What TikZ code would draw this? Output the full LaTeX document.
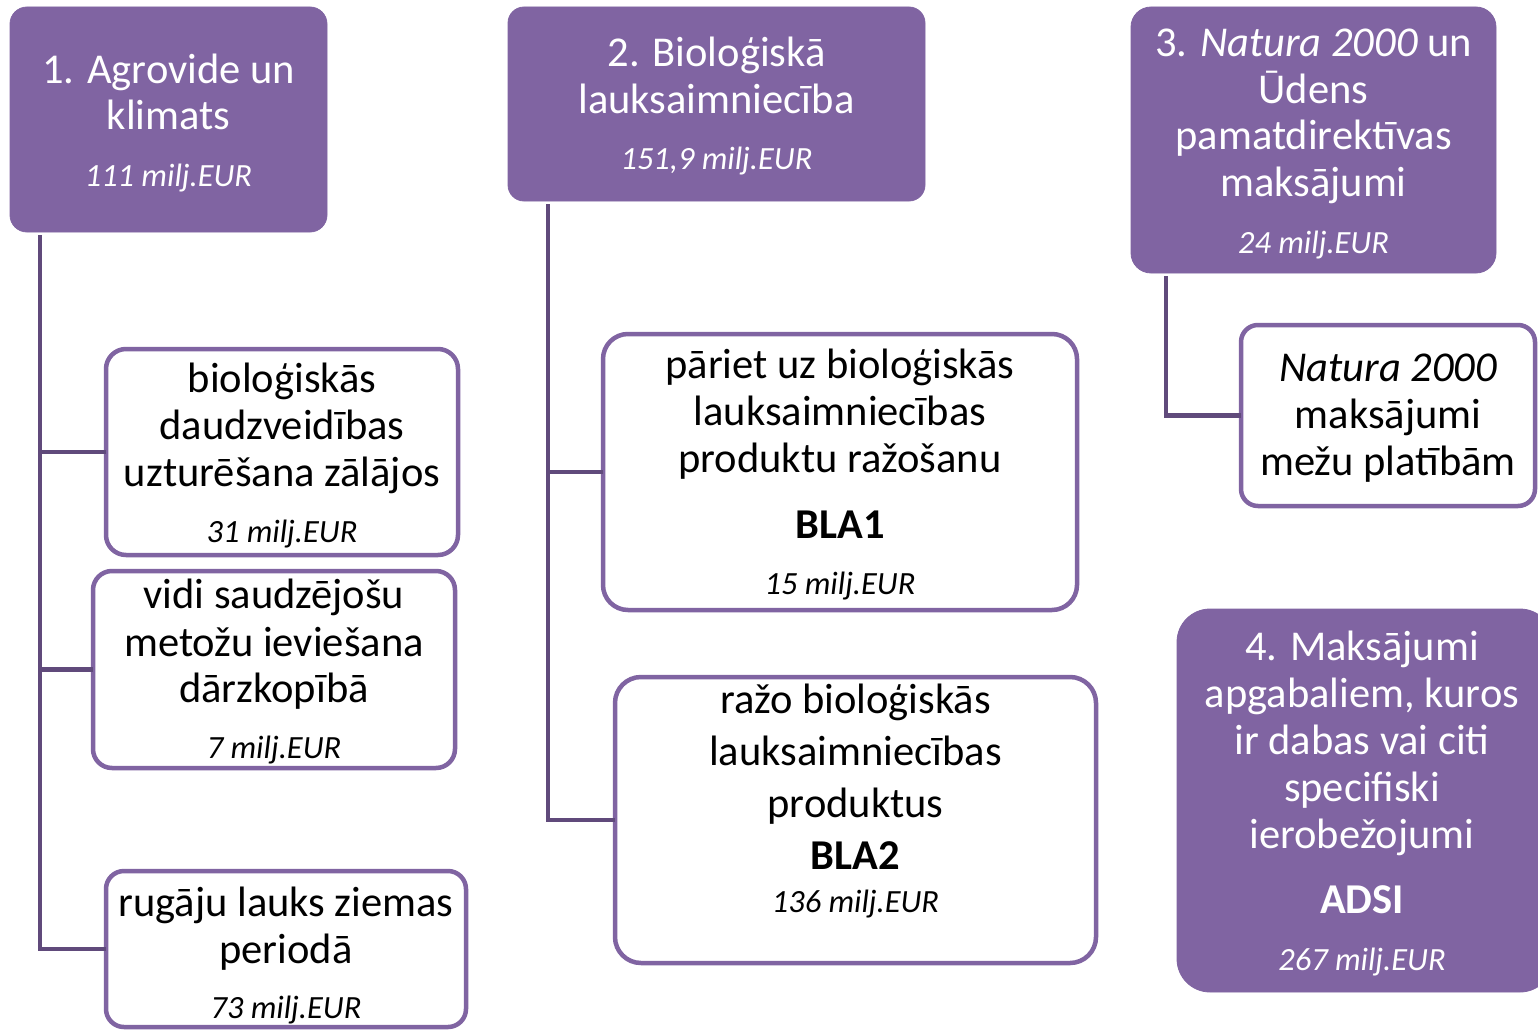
\documentclass[tikz,border=0pt]{standalone}
\usepackage{fontspec}
\setmainfont{Carlito}
\definecolor{pfill}{HTML}{8064A2}
\definecolor{pline}{HTML}{604A7B}
\newcommand\mytext[5][]{\node[tl,#1] (#2) at (#3,#4) {#5};}
\tikzset{
  topbox/.style={rectangle,fill=pfill,draw=pfill,line width=0.8pt,inner sep=0pt,outer sep=0pt},
  subbox/.style={rectangle,fill=white,draw=pfill,line width=4.5pt,inner sep=0pt,outer sep=0pt},
  conn/.style={draw=pline,line width=4.5pt},
  tl/.style={anchor=base,inner sep=0pt,yshift=-1.5pt,font=\fontsize{42.5}{47}\selectfont},
  wt/.style={text=white},
  amt/.style={font=\fontsize{32.4}{38}\selectfont\itshape},
  bld/.style={font=\fontsize{42.5}{47}\selectfont\bfseries}
}
\begin{document}
\begin{tikzpicture}[x=1pt,y=-1pt]
\useasboundingbox[fill=white] (0,0) rectangle (1538,1030);
% top boxes
\node[topbox,rounded corners=17pt,minimum width=317pt,minimum height=225pt] (b1) at (168.5,119.5) {};
\node[topbox,rounded corners=16pt,minimum width=417pt,minimum height=194pt] (b2) at (716.5,104) {};
\node[topbox,rounded corners=20pt,minimum width=365pt,minimum height=266pt] (b3) at (1313.5,140) {};
\node[topbox,rounded corners=33pt,minimum width=376pt,minimum height=383pt] (b4) at (1365,800.5) {};
% sub boxes
\node[subbox,rounded corners=20pt,minimum width=352pt,minimum height=206pt] (a1) at (282,452) {};
\node[subbox,rounded corners=19pt,minimum width=362pt,minimum height=197pt] (a2) at (274,669.5) {};
\node[subbox,rounded corners=18pt,minimum width=360pt,minimum height=156pt] (a3) at (286,949) {};
\node[subbox,rounded corners=25pt,minimum width=474pt,minimum height=276pt] (c1) at (840,472) {};
\node[subbox,rounded corners=26pt,minimum width=481pt,minimum height=286pt] (c2) at (855.5,820) {};
\node[subbox,rounded corners=17pt,minimum width=294pt,minimum height=181pt] (d1) at (1388,415.5) {};
% connectors
\coordinate (t1) at ([xshift=30pt,yshift=-3pt]b1.south west);
\coordinate (t2) at ([xshift=40pt,yshift=-3pt]b2.south west);
\coordinate (t3) at ([xshift=35pt,yshift=-3pt]b3.south west);
\draw[conn] (t1) |- (a3.west);
\draw[conn] (a1.west) -- (a1.west -| t1);
\draw[conn] (a2.west) -- (a2.west -| t1);
\draw[conn] (t2) |- (c2.west);
\draw[conn] (c1.west) -- (c1.west -| t2);
\draw[conn] (t3) |- (d1.west);
% texts box 1
\mytext[wt]{b1l1}{168.5}{82}{1. Agrovide un}
\mytext[wt]{b1l2}{168.5}{128}{klimats}
\mytext[wt,amt]{b1l3}{168.5}{185}{111 milj.EUR}
% box 2
\mytext[wt]{b2l1}{716.5}{65}{2. Bioloģiskā}
\mytext[wt]{b2l2}{716.5}{112}{lauksaimniecība}
\mytext[wt,amt]{b2l3}{716.5}{168}{151,9 milj.EUR}
% box 3
\mytext[wt]{b3l1}{1313.5}{55}{3. \textit{Natura 2000} un}
\mytext[wt]{b3l2}{1313.5}{102}{Ūdens}
\mytext[wt]{b3l3}{1313.5}{148}{pamatdirektīvas}
\mytext[wt]{b3l4}{1313.5}{195}{maksājumi}
\mytext[wt,amt]{b3l5}{1313.5}{252}{24 milj.EUR}
% box 4
\mytext[wt]{b4l1}{1362}{659}{4. Maksājumi}
\mytext[wt]{b4l2}{1362}{706}{apgabaliem, kuros}
\mytext[wt]{b4l3}{1362}{753}{ir dabas vai citi}
\mytext[wt]{b4l4}{1362}{800}{specifiski}
\mytext[wt]{b4l5}{1362}{847}{ierobežojumi}
\mytext[wt,bld]{b4l6}{1362}{912}{ADSI}
\mytext[wt,amt]{b4l7}{1362}{969}{267 milj.EUR}
% a1
\mytext{a1l1}{282}{391}{bioloģiskās}
\mytext{a1l2}{282}{438}{daudzveidības}
\mytext{a1l3}{282}{485}{uzturēšana zālājos}
\mytext[amt]{a1l4}{282}{541}{31 milj.EUR}
% a2
\mytext{a2l1}{274}{607}{vidi saudzējošu}
\mytext{a2l2}{274}{655}{metožu ieviešana}
\mytext{a2l3}{274}{701}{dārzkopībā}
\mytext[amt]{a2l4}{274}{757}{7 milj.EUR}
% a3
\mytext{a3l1}{286}{915}{rugāju lauks ziemas}
\mytext{a3l2}{286}{962}{periodā}
\mytext[amt]{a3l3}{286}{1017}{73 milj.EUR}
% c1
\mytext{c1l1}{840}{377}{pāriet uz bioloģiskās}
\mytext{c1l2}{840}{424}{lauksaimniecības}
\mytext{c1l3}{840}{471}{produktu ražošanu}
\mytext[bld]{c1l4}{840}{537}{BLA1}
\mytext[amt]{c1l5}{840}{593}{15 milj.EUR}
% c2
\mytext{c2l1}{855.5}{712}{ražo bioloģiskās}
\mytext{c2l2}{855.5}{764}{lauksaimniecības}
\mytext{c2l3}{855.5}{816}{produktus}
\mytext[bld]{c2l4}{855.5}{868}{BLA2}
\mytext[amt]{c2l5}{855.5}{911}{136 milj.EUR}
% d1
\mytext{d1l1}{1388}{380}{\textit{Natura 2000}}
\mytext{d1l2}{1388}{427}{maksājumi}
\mytext{d1l3}{1388}{474}{mežu platībām}
\end{tikzpicture}
\end{document}
